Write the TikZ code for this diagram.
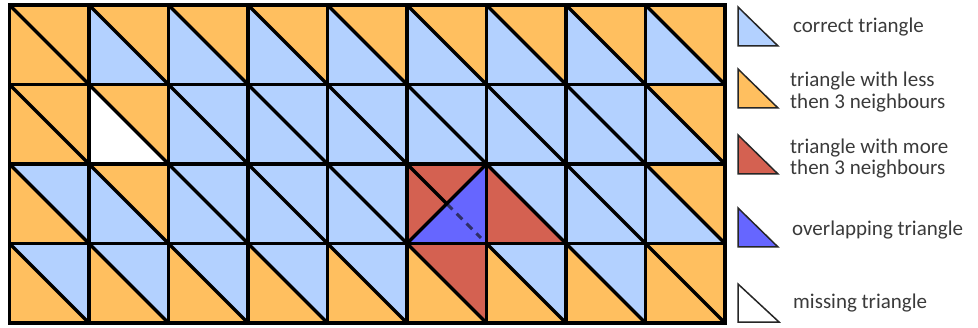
\documentclass[tikz,border=0pt]{standalone}
\usepackage{fontspec}
\setmainfont{Carlito}
\usetikzlibrary{calc}
\definecolor{cb}{HTML}{B3D1FF}
\definecolor{co}{HTML}{FFBF5F}
\definecolor{cr}{HTML}{D46151}
\definecolor{cv}{HTML}{6666FF}
\definecolor{cw}{HTML}{FFFFFF}
\definecolor{txt}{HTML}{3A3A3A}
\definecolor{dashc}{HTML}{2E2E66}
\begin{document}
\begin{tikzpicture}[x=1pt,y=1pt,
  gridline/.style={line width=3.8pt, black, line cap=rect},
  diagline/.style={line width=3.2pt, black},
  hiddenline/.style={line width=3pt, dashc, dash pattern=on 8pt off 6pt},
  legtri/.style={draw=black!85, line width=1.5pt, line join=miter},
  legtext/.style={anchor=base west, text=txt, font=\fontsize{21}{22}\selectfont, align=left, inner sep=0pt}]
\useasboundingbox (0,0) rectangle (978,327);
\def\W{79.5}
\def\X{9.5}
\def\T{322}
% triangle fills: column/row/upper/lower
\foreach \c/\r/\u/\l in {
  0/0/co/co, 1/0/co/cb, 2/0/co/cb, 3/0/co/cb, 4/0/co/cb, 5/0/co/cb, 6/0/co/cb, 7/0/co/cb, 8/0/co/cb,
  0/1/co/co, 1/1/co/cw, 2/1/cb/cb, 3/1/cb/cb, 4/1/cb/cb, 5/1/cb/cb, 6/1/cb/cb, 7/1/cb/cb, 8/1/co/cb,
  0/2/cb/co, 1/2/co/cb, 2/2/cb/cb, 3/2/cb/cb, 4/2/cb/cb, 5/2/cr/cr, 6/2/cb/cr, 7/2/cb/cb, 8/2/co/cb,
  0/3/cb/co, 1/3/cb/co, 2/3/cb/co, 3/3/cb/co, 4/3/cb/co, 5/3/cr/co, 6/3/cb/co, 7/3/cb/co, 8/3/co/co}{
  \coordinate (tl) at ({\X+\c*\W},{\T-\r*\W});
  \coordinate (tr) at ({\X+(\c+1)*\W},{\T-\r*\W});
  \coordinate (bl) at ({\X+\c*\W},{\T-(\r+1)*\W});
  \coordinate (br) at ({\X+(\c+1)*\W},{\T-(\r+1)*\W});
  \fill[\u] (tl) -- (tr) -- (br) -- cycle;
  \fill[\l] (tl) -- (bl) -- (br) -- cycle;
}
% overlapping triangle in cell (5,2)
\coordinate (otl) at ({\X+5*\W},{\T-2*\W});
\coordinate (otr) at ({\X+6*\W},{\T-2*\W});
\coordinate (obl) at ({\X+5*\W},{\T-3*\W});
\coordinate (obr) at ({\X+6*\W},{\T-3*\W});
\coordinate (oc) at ($(otl)!0.5!(obr)$);
\fill[cv] (obl) -- (otr) -- (obr) -- cycle;
% diagonals
\foreach \c in {0,...,8}{
  \foreach \r in {0,...,3}{
    \ifnum\c=5 \ifnum\r=2 \else
      \draw[diagline] ({\X+\c*\W},{\T-\r*\W}) -- ({\X+(\c+1)*\W},{\T-(\r+1)*\W});
    \fi\else
      \draw[diagline] ({\X+\c*\W},{\T-\r*\W}) -- ({\X+(\c+1)*\W},{\T-(\r+1)*\W});
    \fi
  }
}
\draw[hiddenline] (oc) -- ($(oc)!0.86!(obr)$);
\draw[diagline] (otl) -- (oc);
\draw[diagline] (obl) -- (otr);
% grid lines
\foreach \c in {0,...,9}{
  \draw[gridline] ({\X+\c*\W},{\T}) -- ({\X+\c*\W},{\T-4*\W});
}
\foreach \r in {0,...,4}{
  \draw[gridline] ({\X},{\T-\r*\W}) -- ({\X+9*\W},{\T-\r*\W});
}
% legend
\draw[legtri, fill=cb] (738,320) -- (738,281) -- (778,281) -- cycle;
\draw[legtri, fill=co] (738,258) -- (738,219) -- (778,219) -- cycle;
\draw[legtri, fill=cr] (738,192) -- (738,153) -- (778,153) -- cycle;
\draw[legtri, fill=cv] (738,119) -- (738,80) -- (778,80) -- cycle;
\draw[legtri, fill=white] (738,43) -- (738,5) -- (779,5) -- cycle;
\node[legtext] (l1) at (793,294) {correct triangle};
\node[legtext] (l2) at (790,218) {triangle with less\\then 3 neighbours};
\node[legtext] (l3) at (790,152) {triangle with more\\then 3 neighbours};
\node[legtext] (l4) at (792,92) {overlapping triangle};
\node[legtext] (l5) at (793,19) {missing triangle};
\end{tikzpicture}
\end{document}
